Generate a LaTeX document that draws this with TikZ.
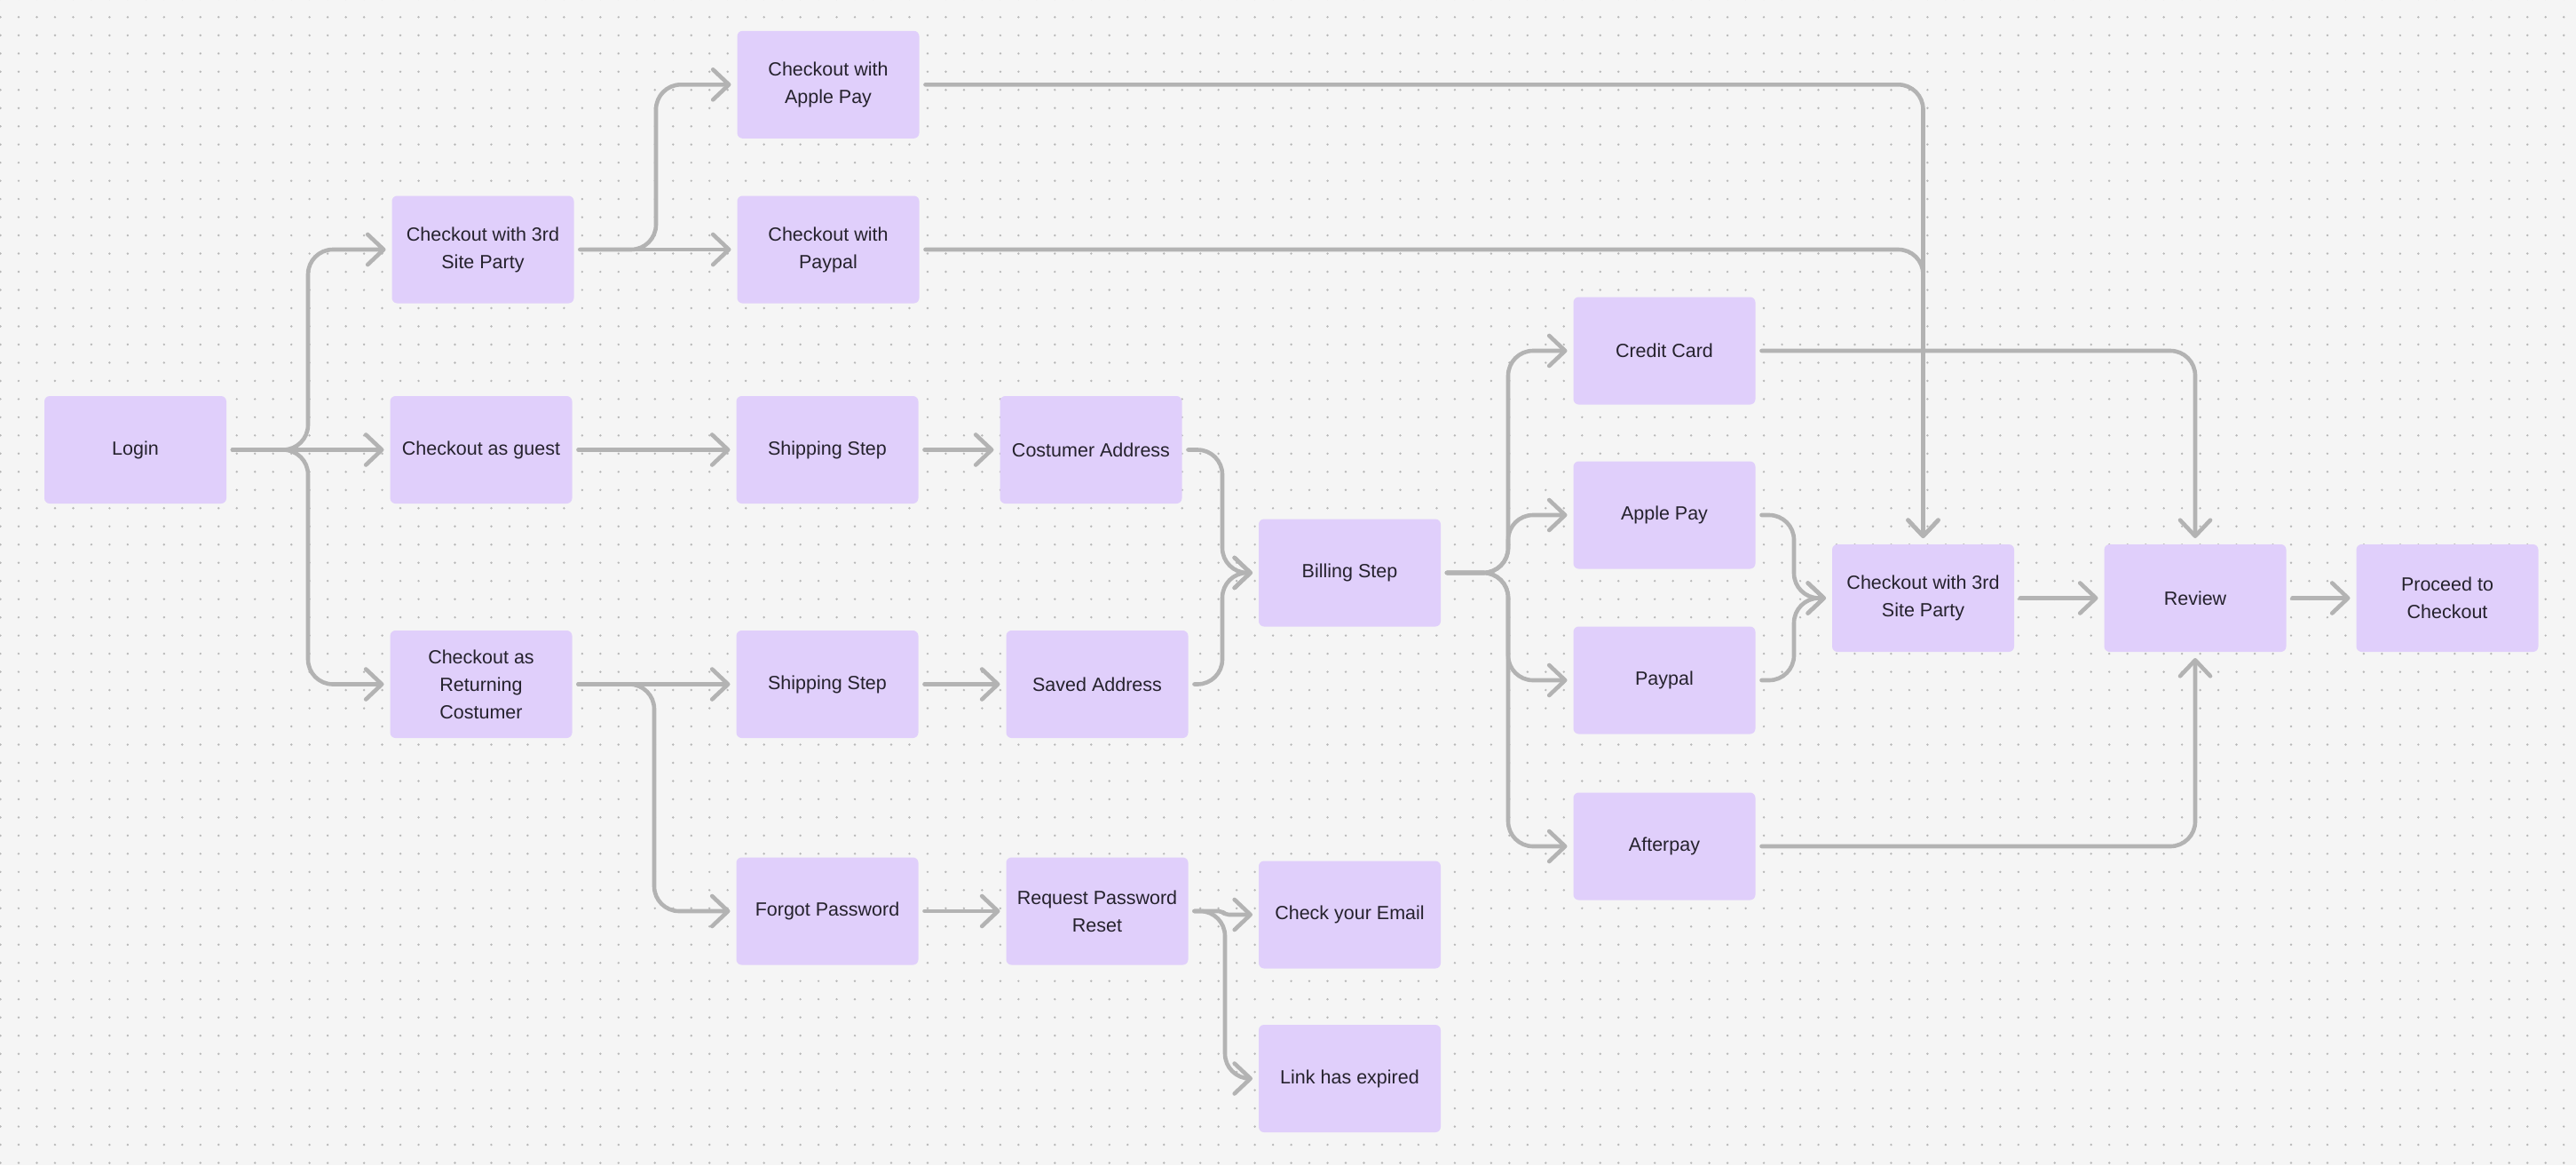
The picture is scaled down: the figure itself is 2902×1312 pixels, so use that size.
\documentclass[tikz,border=0pt]{standalone}
\usepackage{fontspec}
\setmainfont{Liberation Sans}
\usetikzlibrary{arrows.meta}
\definecolor{bg}{HTML}{F5F5F5}
\definecolor{dotc}{HTML}{B8B8B8}
\definecolor{nodefill}{HTML}{E0CFFB}
\definecolor{linec}{HTML}{B3B3B3}
\definecolor{txt}{HTML}{25222D}
\tikzset{
 box/.style={fill=nodefill, rounded corners=3pt, minimum width=102.5pt, minimum height=60.5pt,
   inner sep=0pt, outer sep=3.5pt, align=center, text=txt,
   font=\fontsize{10.75pt}{15.5pt}\selectfont},
 conn/.style={draw=linec, line width=2.3pt, line cap=round, line join=round, rounded corners=14pt,
   -{Straight Barb[length=9pt,width=17pt,round]}},
 dotrow/.style={draw=dotc, line width=1.35pt, line cap=round, dash pattern=on 0pt off 10.24pt},
}
\begin{document}
\begin{tikzpicture}[x=0.5pt,y=-0.5pt]
\useasboundingbox (0,0) rectangle (2902,1312);
\fill[bg] (0,0) rectangle (2902,1312);
\foreach \j in {-1,...,64} \draw[dotrow] (0.5,{19.3+20.48*\j}) -- (2902,{19.3+20.48*\j});

% nodes
\node[box] (login) at (152.5,506.5) {Login};
\node[box] (tpL) at (544,281) {Checkout with 3rd\\Site Party};
\node[box] (guest) at (542,506.5) {Checkout as guest};
\node[box] (ret) at (542,770.5) {Checkout as\\Returning\\Costumer};
\node[box] (ap3) at (933,95.3) {Checkout with\\Apple Pay};
\node[box] (pp3) at (933,281) {Checkout with\\Paypal};
\node[box] (ship1) at (932,506.5) {Shipping Step};
\node[box] (ship2) at (932,770.5) {Shipping Step};
\node[box] (forgot) at (932,1026) {Forgot Password};
\node[box] (cust) at (1229,506.5) {Costumer Address};
\node[box] (saved) at (1236,770.5) {Saved Address};
\node[box] (rpr) at (1236,1026) {Request Password\\Reset};
\node[box] (bill) at (1520.5,645) {Billing Step};
\node[box] (email) at (1520.5,1030) {Check your Email};
\node[box] (link) at (1520.5,1214.5) {Link has expired};
\node[box] (cc) at (1875,395) {Credit Card};
\node[box] (apR) at (1875,580) {Apple Pay};
\node[box] (ppR) at (1875,766) {Paypal};
\node[box] (af) at (1875,953) {Afterpay};
\node[box] (tpR) at (2166.5,673.5) {Checkout with 3rd\\Site Party};
\node[box] (rev) at (2473,673.5) {Review};
\node[box] (proc) at (2757,673.5) {Proceed to\\Checkout};

% connectors
\draw[conn] (login.east) -- ++(85,0) |- (tpL.west);
\draw[conn] (login.east) -- (guest.west);
\draw[conn] (login.east) -- ++(85,0) |- (ret.west);
\draw[conn] (tpL.east) -- (pp3.west);
\draw[conn] (tpL.east) -- ++(85.5,0) |- (ap3.west);
\draw[conn] (guest.east) -- (ship1.west);
\draw[conn] (ret.east) -- (ship2.west);
\draw[conn] (ret.east) -- ++(85.5,0) |- (forgot.west);
\draw[conn] (ship1.east) -- (cust.west);
\draw[conn] (ship2.east) -- (saved.west);
\draw[conn] (forgot.east) -- (rpr.west);
\draw[conn] (cust.east) -- ++(38.5,0) |- (bill.west);
\draw[conn] (saved.east) -- ++(31.5,0) |- (bill.west);
\draw[conn, rounded corners=2pt] (rpr.east) -- ++(31,0) -- ++(4,4) -- (email.west);
\draw[conn] (rpr.east) -- ++(34.5,0) |- (link.west);
\draw[conn] (bill.east) -- ++(69,0) |- (cc.west);
\draw[conn] (bill.east) -- ++(69,0) |- (apR.west);
\draw[conn] (bill.east) -- ++(69,0) |- (ppR.west);
\draw[conn] (bill.east) -- ++(69,0) |- (af.west);
\draw[conn] (ap3.east) -| (tpR.north);
\draw[conn] (pp3.east) -| (tpR.north);
\draw[conn] (cc.east) -| (rev.north);
\draw[conn] (af.east) -| (rev.south);
\draw[conn] (apR.east) -- ++(36.5,0) |- (tpR.west);
\draw[conn] (ppR.east) -- ++(36.5,0) |- (tpR.west);
\draw[conn] (tpR.east) -- (rev.west);
\draw[conn] (rev.east) -- (proc.west);
\end{tikzpicture}
\end{document}
